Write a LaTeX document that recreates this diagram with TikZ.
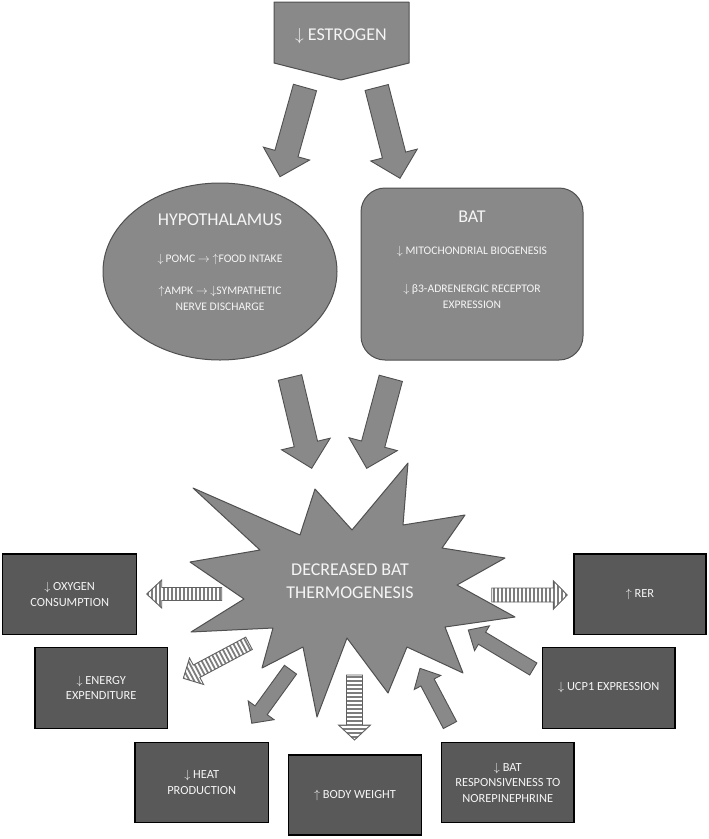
\documentclass[tikz,border=0pt]{standalone}
\usepackage{fontspec}
\setmainfont{Carlito}
\usetikzlibrary{shapes.geometric}
\definecolor{midgray}{RGB}{137,137,137}
\definecolor{edgegray}{RGB}{80,80,80}
\definecolor{boxgray}{RGB}{89,89,89}
\definecolor{stripegray}{RGB}{125,125,125}
\definecolor{txtwhite}{RGB}{245,245,245}
\tikzset{
  shapefill/.style={fill=midgray, draw=edgegray, line width=1pt, line join=round},
  outbox/.style={rectangle, fill=boxgray, draw=black, line width=1.3pt, text=txtwhite,
     align=center, font=\fontsize{12.4}{15.5}\selectfont, inner sep=0pt},
  smalltxt/.style={text=txtwhite, align=center, font=\fontsize{11.6}{16}\selectfont, inner sep=0pt},
  bigtxt/.style={text=txtwhite, align=center, font=\fontsize{18}{23}\selectfont, inner sep=0pt},
  arrowfill/.style={fill=midgray, draw=edgegray, line width=0.9pt, line join=miter},
  stripeline/.style={draw=stripegray, line width=1.8pt},
  stripeedge/.style={draw=edgegray!90, line width=0.9pt, line join=miter}
}
% solid block arrow: x1,y1,x2,y2, shaft half width, head half width, head length
\newcommand{\blkarrow}[7]{%
  \pgfmathsetmacro{\baAng}{atan2((#2)-(#4),(#3)-(#1))}%
  \pgfmathsetmacro{\baLen}{veclen((#3)-(#1),(#4)-(#2))}%
  \begin{scope}[shift={(#1,#2)},rotate=\baAng]
    \draw[arrowfill] (0,#5) -- ({\baLen-#7},#5) -- ({\baLen-#7},#6) -- (\baLen,0)
      -- ({\baLen-#7},-#6) -- ({\baLen-#7},-#5) -- (0,-#5) -- cycle;
  \end{scope}}
% striped block arrow
\newcommand{\strarrow}[7]{%
  \pgfmathsetmacro{\baAng}{atan2((#2)-(#4),(#3)-(#1))}%
  \pgfmathsetmacro{\baLen}{veclen((#3)-(#1),(#4)-(#2))}%
  \begin{scope}[shift={(#1,#2)},rotate=\baAng]
    \fill[white] (0,#5) -- ({\baLen-#7},#5) -- ({\baLen-#7},#6) -- (\baLen,0)
      -- ({\baLen-#7},-#6) -- ({\baLen-#7},-#5) -- (0,-#5) -- cycle;
    \begin{scope}
      \clip (0,#5) -- ({\baLen-#7},#5) -- ({\baLen-#7},#6) -- (\baLen,0)
        -- ({\baLen-#7},-#6) -- ({\baLen-#7},-#5) -- (0,-#5) -- cycle;
      \foreach \s in {2,6,...,98} \draw[stripeline] (\s,-20) -- (\s,20);
    \end{scope}
    \draw[stripeedge] (0,#5) -- ({\baLen-#7},#5) -- ({\baLen-#7},#6) -- (\baLen,0)
      -- ({\baLen-#7},-#6) -- ({\baLen-#7},-#5) -- (0,-#5) -- cycle;
  \end{scope}}
\begin{document}
\begin{tikzpicture}[x=1pt,y=-1pt]
\useasboundingbox (0,0) rectangle (709,839);

% ESTROGEN
\draw[shapefill] (274,2) -- (409,2) -- (409,63) -- (341,80) -- (274,63) -- cycle;
\node[bigtxt] (estrogen) at (341,36) {$\downarrow$ ESTROGEN};

% arrows from estrogen
\blkarrow{305}{87.5}{280}{176.7}{12}{24}{24}
\blkarrow{376.7}{87.5}{400}{178.3}{12}{24}{24}

% HYPOTHALAMUS
\node[ellipse, shapefill, minimum width=234pt, minimum height=177pt, inner sep=0pt] (hypo) at (220,271.5) {};
\node[bigtxt] (hypotitle) at (220,220) {HYPOTHALAMUS};
\node[smalltxt] (hypol1) at (220,259) {$\downarrow$\,POMC $\rightarrow$ $\uparrow$FOOD INTAKE};
\node[smalltxt] (hypol2) at (220,298) {$\uparrow$AMPK $\rightarrow$ $\downarrow$SYMPATHETIC\\NERVE DISCHARGE};

% BAT
\node[rectangle, rounded corners=24pt, shapefill, minimum width=222pt, minimum height=172pt, inner sep=0pt] (bat) at (472,274) {};
\node[bigtxt] (battitle) at (472,217) {BAT};
\node[smalltxt] (batl1) at (472,251) {$\downarrow$ MITOCHONDRIAL BIOGENESIS};
\node[smalltxt] (batl2) at (472,296) {$\downarrow$ β3-ADRENERGIC RECEPTOR\\EXPRESSION};

% arrows to star
\blkarrow{290}{377.5}{311.7}{468.3}{12}{25}{25}
\blkarrow{390.8}{378.3}{366.7}{468.3}{12}{25}{25}

% STAR
\draw[shapefill] (193,488) -- (300,535) -- (315,489) -- (352,530) -- (408,463) -- (403,525)
  -- (465,515) -- (442,548) -- (505,558) -- (457,585) -- (515,617) -- (445,627)
  -- (463,673) -- (407,647) -- (388,693) -- (347,638) -- (317,717) -- (303,647)
  -- (262,668) -- (273,628) -- (191,632) -- (244,599) -- (190,562) -- (260,550) -- cycle;
\node[bigtxt] (star) at (350,581.5) {DECREASED BAT\\THERMOGENESIS};

% outcome boxes
\node[outbox, minimum width=134pt, minimum height=80.3pt] (oxygen) at (69.7,594.2) {$\downarrow$ OXYGEN\\CONSUMPTION};
\node[outbox, minimum width=132.3pt, minimum height=81pt] (energy) at (101.2,687.8) {$\downarrow$ ENERGY\\EXPENDITURE};
\node[outbox, minimum width=132pt, minimum height=80.3pt] (rer) at (640,594.2) {$\uparrow$ RER};
\node[outbox, minimum width=132.3pt, minimum height=81pt] (ucp) at (608.8,687.8) {$\downarrow$ UCP1 EXPRESSION};
\node[outbox, minimum width=133.3pt, minimum height=80.4pt] (heat) at (201.7,782.5) {$\downarrow$ HEAT\\PRODUCTION};
\node[outbox, minimum width=133.3pt, minimum height=80pt] (body) at (355,795) {$\uparrow$ BODY WEIGHT};
\node[outbox, minimum width=132.3pt, minimum height=80.4pt] (batr) at (507.8,782.5) {$\downarrow$ BAT\\RESPONSIVENESS TO\\NOREPINEPHRINE};

% solid arrows around star
\blkarrow{290.5}{669.7}{251.7}{723.3}{7.5}{16}{16}
\blkarrow{450}{725}{420}{668.3}{7.5}{15}{16}
\blkarrow{533.3}{669}{468.3}{630}{7}{14.5}{16}

% striped arrows
\strarrow{221.7}{594}{146.7}{594}{6.5}{14}{15}
\strarrow{249}{643.3}{183.3}{678.3}{7}{15}{15}
\strarrow{354.5}{675}{354.5}{740}{8}{16}{15}
\strarrow{491.7}{595}{567.3}{595}{7}{14.3}{14}
\end{tikzpicture}
\end{document}
